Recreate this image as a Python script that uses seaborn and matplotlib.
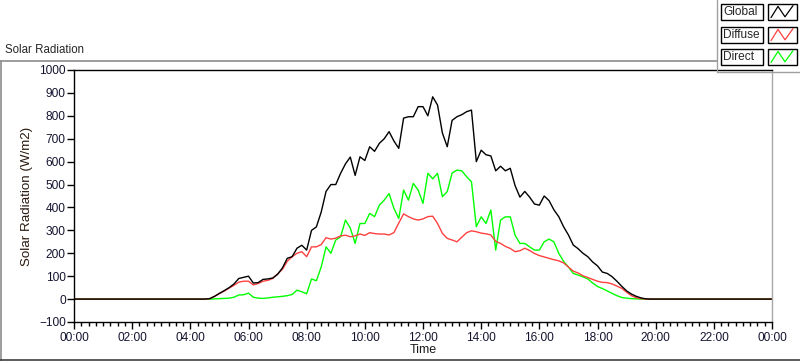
import numpy as np
import pandas as pd
import matplotlib
matplotlib.use('Agg')
import matplotlib.pyplot as plt
from matplotlib.ticker import MultipleLocator, FuncFormatter
from matplotlib.patches import Rectangle
from matplotlib.lines import Line2D
import seaborn as sns

# readings every 10 minutes, first one at 04:30 (W/m2)
first_sample = '04:30'
global_wm2 = [0, 2, 12,
              25, 37, 50, 66, 90, 95,
              100, 70, 72, 86, 88, 92,
              108, 136, 178, 185, 222, 235,
              214, 300, 315, 380, 470, 500,
              500, 549, 590, 620, 540, 621,
              605, 665, 645, 680, 700, 731,
              690, 658, 790, 796, 796, 840,
              840, 800, 883, 847, 725, 665,
              780, 796, 805, 818, 825, 600,
              650, 630, 625, 560, 580, 560,
              571, 495, 445, 470, 445, 415,
              410, 450, 430, 390, 360, 316,
              280, 236, 220, 200, 185, 162,
              145, 118, 112, 98, 78, 56,
              36, 22, 12, 5, 1, 0]
diffuse_wm2 = [0, 2, 12,
               24, 35, 48, 60, 74, 78,
               78, 62, 68, 78, 82, 90,
               110, 130, 165, 185, 200, 207,
               185, 228, 228, 238, 268, 262,
               266, 276, 279, 272, 276, 284,
               278, 290, 286, 284, 284, 280,
               290, 332, 372, 360, 350, 345,
               350, 360, 362, 330, 287, 265,
               258, 250, 270, 290, 298, 294,
               288, 285, 280, 252, 243, 230,
               221, 207, 211, 222, 212, 199,
               190, 184, 178, 172, 167, 158,
               140, 122, 114, 102, 94, 86,
               78, 73, 72, 66, 57, 47,
               30, 15, 6, 2, 0, 0]
direct_wm2 = [0, 0, 1,
              2, 3, 4, 8, 18, 19,
              26, 8, 4, 3, 5, 8,
              10, 12, 15, 20, 39, 32,
              23, 88, 80, 140, 228, 200,
              258, 272, 345, 310, 243, 330,
              330, 374, 360, 410, 432, 461,
              396, 352, 476, 432, 505, 476,
              418, 549, 525, 549, 447, 469,
              550, 563, 560, 534, 512, 316,
              359, 330, 389, 214, 345, 359,
              359, 279, 243, 243, 228, 214,
              214, 250, 262, 250, 200, 165,
              140, 112, 105, 97, 88, 70,
              55, 46, 36, 25, 15, 7,
              4, 2, 1, 0, 0, 0]

series_names = ['Global', 'Diffuse', 'Direct']
series_colors = {'Global': 'black', 'Diffuse': '#ff4040', 'Direct': '#00ff00'}

# build a long table, with the night (zero) ends of the day added
stamps = pd.date_range('2000-01-01 ' + first_sample, periods=len(global_wm2), freq='10min')
hours = stamps.hour + stamps.minute / 60.0
hours = np.r_[0.0, hours, 24.0]
frames = []
for name, vals in zip(series_names, [global_wm2, diffuse_wm2, direct_wm2]):
    frames.append(pd.DataFrame({'hour': hours, 'value': np.r_[0, vals, 0], 'series': name}))
df = pd.concat(frames, ignore_index=True)

sns.set_style('white')
plt.rcParams['font.family'] = ['Liberation Sans', 'DejaVu Sans']

fig = plt.figure(figsize=(8, 3.61), dpi=100)
W, H = 800.0, 361.0
ax = fig.add_axes([74 / W, 1 - 322 / H, (772 - 74) / W, (322 - 70) / H])

sns.lineplot(data=df, x='hour', y='value', hue='series',
             hue_order=['Direct', 'Diffuse', 'Global'], palette=series_colors,
             estimator=None, sort=False, linewidth=1.0, legend=False, ax=ax)

ax.set_xlim(0, 24)
ax.set_ylim(-100, 1000)
ax.xaxis.set_major_locator(MultipleLocator(2))
ax.xaxis.set_minor_locator(MultipleLocator(0.25))
ax.yaxis.set_major_locator(MultipleLocator(100))
ax.xaxis.set_major_formatter(FuncFormatter(lambda v, p: '%02d:00' % (int(round(v)) % 24)))

tick_col = '#141430'
ax.tick_params(axis='x', which='major', direction='out', length=5, width=1,
               color='black', labelsize=8.6, labelcolor=tick_col, pad=2, bottom=True)
ax.tick_params(axis='x', which='minor', direction='out', length=3, width=1,
               color='black', bottom=True)
ax.tick_params(axis='y', which='major', direction='out', length=5, width=1,
               color='black', labelsize=8.6, labelcolor=tick_col, pad=1, left=True)

for side in ['left', 'top', 'bottom']:
    ax.spines[side].set_color('black')
    ax.spines[side].set_linewidth(1.0)
ax.spines['right'].set_color('#a8a8a8')
ax.spines['right'].set_linewidth(1.0)

ax.set_xlabel('Time', fontsize=9, color='#1a1a1a', labelpad=0)
ax.set_ylabel('Solar Radiation (W/m2)', fontsize=9.6, color='#2a1a10', labelpad=4)

# chart title and frame
fig.text(5 / W, 1 - 50 / H, 'Solar Radiation', fontsize=8.3, ha='left', va='center')
fig.lines.append(Line2D([0, 717 / W], [1 - 61 / H, 1 - 61 / H], transform=fig.transFigure,
                        color='#8c8c8c', lw=1.2))
fig.lines.append(Line2D([0.6 / W, 0.6 / W], [0, 1 - 61 / H], transform=fig.transFigure,
                        color='#8c8c8c', lw=1.2))
fig.lines.append(Line2D([0, 1], [0.8 / H, 0.8 / H], transform=fig.transFigure,
                        color='#404040', lw=1.2))

# legend panel
fig.lines.append(Line2D([717 / W, 717 / W], [1 - 72 / H, 1], transform=fig.transFigure,
                        color='#a0a0a0', lw=1.0))
fig.lines.append(Line2D([717 / W, 1], [1 - 72 / H, 1 - 72 / H], transform=fig.transFigure,
                        color='#a0a0a0', lw=1.0))
row_tops = [4, 27, 49]
for name, top in zip(series_names, row_tops):
    y0 = 1 - (top + 16) / H
    hgt = 16 / H
    fig.patches.append(Rectangle((721 / W, y0), 42 / W, hgt, transform=fig.transFigure,
                                 facecolor='white', edgecolor='black', lw=1.0))
    fig.patches.append(Rectangle((768 / W, y0), 29 / W, hgt, transform=fig.transFigure,
                                 facecolor='white', edgecolor='black', lw=1.0))
    fig.text(723 / W, y0 + hgt / 2, name, fontsize=8.6, ha='left', va='center')
    zx = np.array([771, 778, 785, 793]) / W
    zy = y0 + hgt * np.array([0.15, 0.85, 0.2, 0.9])
    fig.lines.append(Line2D(zx, zy, transform=fig.transFigure,
                            color=series_colors[name], lw=0.9))

fig.savefig('out.png', dpi=100)
